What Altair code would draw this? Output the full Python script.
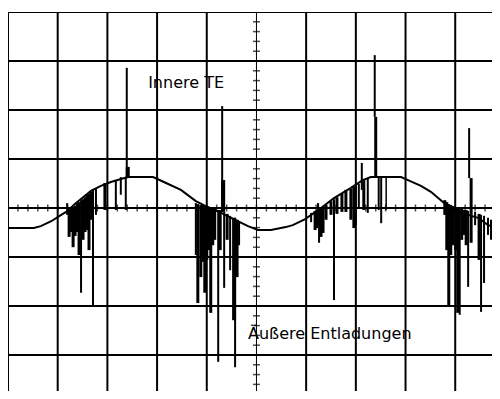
import altair as alt
import pandas as pd

# Oscilloscope graticule: x and y in divisions (0 = horizontal centre line)
grid_x = [0, 1, 2, 3, 4, 6, 7, 8, 9, 10]
grid_y = [-4, -3, -2, -1, 0, 1, 2, 3, 4]
centre_x = [5]

# Supply voltage trace
curve_x = [0.00, 0.52, 0.66, 0.87, 1.07, 1.17, 1.37, 1.67, 1.87, 2.07, 2.41, 2.92,
           3.18, 3.48, 3.78, 3.94, 4.29, 4.49, 4.83, 5.03, 5.29, 5.59, 5.73, 5.96,
           6.16, 6.30, 6.56, 6.90, 7.14, 7.30, 7.91, 8.05, 8.31, 8.51, 8.71, 8.87,
           9.11, 9.46, 9.66, 9.88, 10.02]
curve_y = [-0.41, -0.41, -0.37, -0.27, -0.14, -0.08, 0.10, 0.35, 0.45, 0.53, 0.63, 0.63,
           0.51, 0.37, 0.14, 0.06, -0.10, -0.20, -0.37, -0.45, -0.45, -0.39, -0.35, -0.24,
           -0.10, 0.00, 0.20, 0.41, 0.57, 0.63, 0.63, 0.57, 0.45, 0.33, 0.16, 0.02,
           -0.10, -0.20, -0.35, -0.41, -0.43]

# Discharge pulses: position, top, bottom, line weight
spike_x = [1.19, 1.23, 1.27, 1.31, 1.35, 1.39, 1.43, 1.47, 1.51, 1.55, 1.59, 1.63, 1.67, 1.71,
           1.77, 1.95, 2.17, 2.27, 2.37, 2.41, 2.39,
           3.78, 3.82, 3.88, 3.92, 3.96, 4.00, 4.04, 4.08, 4.12, 4.16, 4.23, 4.27, 4.31, 4.33,
           4.35, 4.41, 4.47, 4.55, 4.57, 4.61, 4.65,
           6.10, 6.18, 6.22, 6.24, 6.26, 6.30, 6.34, 6.40, 6.50, 6.56, 6.62, 6.72, 6.80, 6.90,
           6.96, 7.00, 7.06, 7.12, 7.16, 7.24, 7.38, 7.40, 7.46, 7.51, 7.61,
           8.79, 8.83, 8.87, 8.91, 8.95, 9.01, 9.05, 9.09, 9.13, 9.17, 9.22, 9.26, 9.28, 9.32,
           9.40, 9.48, 9.52, 9.58, 9.66, 9.72, 9.80, 9.86]
spike_top = [0.10, -0.04, 0.00, 0.00, 0.04, 0.10, 0.12, 0.16, 0.18, 0.22, 0.27, 0.29, 0.33, 0.37,
             0.39, 0.51, 0.57, 0.63, 0.61, 0.84, 2.86,
             0.10, 0.08, 0.06, 0.06, 0.06, 0.04, 0.02, 0.02, 0.00, -0.02, -0.04, -0.04, 2.08, 0.57,
             -0.08, -0.12, -0.16, -0.20, -0.20, -0.24, -0.27,
             -0.10, -0.06, -0.04, 0.10, -0.04, 0.00, 0.02, 0.06, 0.14, 0.18, 0.22, 0.29, 0.37, 0.39,
             0.43, 0.45, 0.49, 0.92, 0.57, 0.61, 3.12, 1.86, 0.63, 0.63, 0.63,
             0.16, 0.12, 0.08, 0.06, 0.04, 0.02, 0.02, 0.00, -0.02, -0.04, -0.04, -0.06, 1.63, 0.61,
             -0.08, -0.12, -0.14, -0.16, -0.20, -0.24, -0.29, -0.33]
spike_bottom = [-0.14, -0.59, -0.49, -0.80, -0.57, -0.49, -0.96, -1.73, -0.65, -0.49, -0.45, -0.86, -0.24, -1.98,
                -0.14, -0.04, -0.04, 0.27, -0.04, 0.61, 0.61,
                -0.96, -1.94, -1.41, -1.10, -1.73, -1.06, -0.86, -2.14, -0.76, -0.65, -3.14, -0.86, -0.08, -0.08,
                -1.63, -0.65, -1.27, -2.29, -3.25, -1.41, -0.76,
                -0.29, -0.45, -0.41, -0.04, -0.71, -0.59, -0.51, -0.24, -0.14, -1.88, -0.12, -0.08, -0.08, -0.24,
                -0.41, -0.35, 0.00, 0.37, -0.04, -0.10, 1.86, 0.63, -0.04, -0.31, -0.04,
                -0.14, -0.86, -2.02, -0.96, -0.76, -0.86, -2.14, -2.18, -0.65, -0.55, -0.76, -1.61, 0.61, -0.71,
                -0.35, -1.06, -2.12, -1.53, -0.55, -0.65, -0.92, -0.76]
spike_w = [2, 3, 3, 3, 3, 3, 3, 2, 3, 3, 3, 3, 3, 2,
           2, 3, 2, 2, 2, 4, 2,
           2, 3, 3, 3, 3, 3, 3, 3, 3, 3, 2, 3, 2, 4,
           2, 3, 2, 4, 2, 3, 2,
           2, 3, 3, 2, 2, 3, 3, 3, 3, 2, 3, 3, 3, 3,
           3, 2, 2, 2, 3, 2, 2, 3, 2, 2, 1.5,
           3, 3, 3, 3, 3, 3, 3, 2, 3, 3, 3, 2, 2, 3,
           2, 3, 2, 2, 2, 2, 2, 2]

labels = ["Innere TE", "Äußere Entladungen"]
label_x = [2.82, 4.83]
label_y = [2.55, -2.57]

minor_x = [i / 5 for i in range(0, 51)]
minor_y = [i / 5 - 4 for i in range(0, 41)]

# visible part of the screen (the right and bottom edges are cut off as in the photo)
xs = alt.Scale(domain=[0, 9.74], nice=False, zero=False)
ys = alt.Scale(domain=[-3.735, 4], nice=False, zero=False)

curve_df = pd.DataFrame({"x": curve_x, "y": curve_y})
spike_df = pd.DataFrame({"x": spike_x, "top": spike_top, "bottom": spike_bottom, "w": spike_w})
label_df = pd.DataFrame({"label": labels, "x": label_x, "y": label_y})
hticks_df = pd.DataFrame({"x": minor_x, "y": [0] * len(minor_x)})
vticks_df = pd.DataFrame({"y": minor_y, "x": [5] * len(minor_y)})

vgrid = alt.Chart(pd.DataFrame({"x": grid_x})).mark_rule(color="black", strokeWidth=2, clip=True).encode(
    x=alt.X("x:Q", scale=xs, axis=None))
hgrid = alt.Chart(pd.DataFrame({"y": grid_y})).mark_rule(color="black", strokeWidth=2, clip=True).encode(
    y=alt.Y("y:Q", scale=ys, axis=None))
centre = alt.Chart(pd.DataFrame({"x": centre_x})).mark_rule(color="black", strokeWidth=1).encode(
    x=alt.X("x:Q", scale=xs, axis=None))

hticks = alt.Chart(hticks_df).mark_tick(
    color="black", orient="vertical", size=7, thickness=1.5, clip=True).encode(
    x=alt.X("x:Q", scale=xs, axis=None), y=alt.Y("y:Q", scale=ys, axis=None))
vticks = alt.Chart(vticks_df).mark_tick(
    color="black", orient="horizontal", size=7, thickness=1.5, clip=True).encode(
    y=alt.Y("y:Q", scale=ys, axis=None), x=alt.X("x:Q", scale=xs, axis=None))

curve = alt.Chart(curve_df).mark_line(color="black", strokeWidth=2, clip=True).encode(
    x=alt.X("x:Q", scale=xs, axis=None), y=alt.Y("y:Q", scale=ys, axis=None))

spikes = alt.Chart(spike_df).mark_rule(color="black", strokeCap="butt", clip=True).encode(
    x=alt.X("x:Q", scale=xs, axis=None),
    y=alt.Y("top:Q", scale=ys, axis=None),
    y2="bottom:Q",
    strokeWidth=alt.StrokeWidth("w:Q", scale=None, legend=None))

text = alt.Chart(label_df).mark_text(
    align="left", baseline="middle", font="DejaVu Sans", fontSize=16, color="black").encode(
    x=alt.X("x:Q", scale=xs, axis=None), y=alt.Y("y:Q", scale=ys, axis=None), text="label:N")

chart = alt.layer(vgrid, hgrid, centre, hticks, vticks, curve, spikes, text).properties(
    width=484, height=379,
    padding={"left": 0, "top": 4, "right": 0, "bottom": 0},
    autosize=alt.AutoSizeParams(type="none"),
    background="white",
).configure_view(stroke=None)

chart.save("out.html", embed_options={"renderer": "svg", "actions": False})
